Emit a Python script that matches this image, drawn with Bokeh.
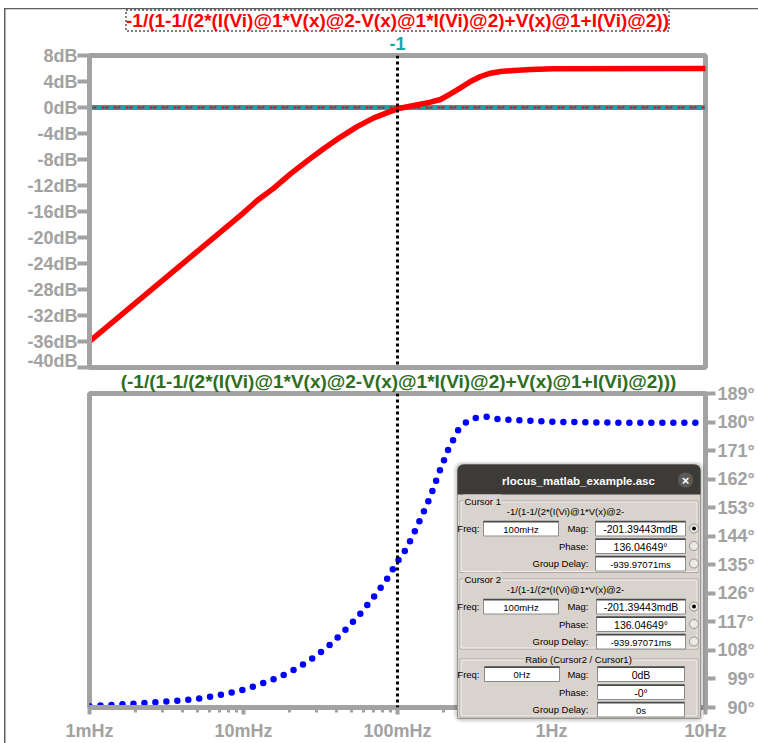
from bokeh.plotting import figure
from bokeh.layouts import column
from bokeh.models import Span, Label, BoxAnnotation, FixedTicker, Range1d
from bokeh.embed import file_html
from bokeh.resources import INLINE

# ---------------- data ----------------
# magnitude of the loop expression (dB) vs frequency (Hz)
mag_freq = [0.001, 0.00316, 0.01, 0.01227, 0.01574, 0.02018, 0.02594, 0.03327,
            0.04266, 0.0547, 0.07015, 0.0902, 0.1, 0.1276, 0.1637, 0.1901, 0.2208,
            0.2564, 0.2979, 0.3459, 0.4018, 0.4667, 0.5702, 0.7311, 1.035, 10.0]
mag_db = [-36.0, -26.1, -16.2, -14.3, -12.4, -10.2, -8.2, -6.3,
          -4.55, -2.95, -1.6, -0.6, -0.2014, 0.31, 0.82, 1.23, 2.1,
          3.03, 4.0, 4.77, 5.28, 5.54, 5.69, 5.85, 5.95, 6.0]

# phase (degrees) vs frequency (Hz)
phase_freq = [0.001, 0.00164, 0.0026, 0.00412, 0.00569, 0.00787, 0.01, 0.0126,
              0.0171, 0.0222, 0.0295, 0.0378, 0.0473, 0.0586, 0.0716, 0.0857,
              0.1, 0.1127, 0.1239, 0.1416, 0.1629, 0.1866, 0.2133, 0.2489,
              0.2805, 0.3206, 0.3767, 0.4436, 0.52, 0.7063, 1.0, 2.5, 10.0]
phase_deg = [90.4, 91.0, 91.6, 92.3, 93.1, 94.4, 95.6, 97.2,
             99.6, 102.3, 106.2, 110.4, 115.1, 120.1, 125.4, 130.6,
             136.05, 139.7, 143.5, 149.6, 156.3, 164.2, 171.3, 177.6,
             180.0, 181.3, 181.7, 181.0, 180.7, 180.4, 180.1, 179.8, 179.8]

unity_db = 0.0
cursor_freq = 0.1

db_ticks = list(range(-40, 9, 4))
db_labels = [f"{v}dB" for v in db_ticks]
deg_ticks = list(range(90, 190, 9))
deg_labels = [f"{v}\u00b0".rjust(4, "\u2007") for v in deg_ticks]
decade_ticks = [0.001, 0.01, 0.1, 1, 10]
decade_labels = ["1mHz", "10mHz", "100mHz", "1Hz", "10Hz"]
minor_ticks = [k * d for d in [0.001, 0.01, 0.1, 1] for k in range(2, 10)]

expr = "-1/(1-1/(2*(I(Vi)@1*V(x)@2-V(x)@1*I(Vi)@2)+V(x)@1+I(Vi)@2))"
expr_short = "-1/(1-1/(2*(I(Vi)@1*V(x)@2-"
dialog_title = "rlocus_matlab_example.asc"
cursor1 = {"freq": "100mHz", "mag": "-201.39443mdB", "phase": "136.04649\u00b0", "gd": "-939.97071ms"}
cursor2 = {"freq": "100mHz", "mag": "-201.39443mdB", "phase": "136.04649\u00b0", "gd": "-939.97071ms"}
ratio = {"freq": "0Hz", "mag": "0dB", "phase": "-0\u00b0", "gd": "0s"}

# ---------------- styling ----------------
W = 758
H = 743
TOP_H = 370
BOT_H = H - TOP_H
GRAY = "#a2a2a2"
FONT = "Liberation Sans"
RED = "#ff0000"
TEAL = "#12a8a8"
GREEN = "#2f6d1f"
BODY = "#d8d4cd"


def style_axis(ax, tick_out):
    ax.axis_line_color = GRAY
    ax.axis_line_width = 5
    ax.major_tick_line_color = GRAY
    ax.major_tick_line_width = 4
    ax.major_tick_out = tick_out
    ax.major_tick_in = 0
    ax.major_label_text_font = FONT
    ax.major_label_text_font_style = "bold"
    ax.major_label_text_font_size = "18px"
    ax.major_label_text_color = GRAY


# ---------------- magnitude pane ----------------
top = figure(width=W, height=TOP_H, x_axis_type="log", x_range=Range1d(0.001, 10),
             y_range=Range1d(-40, 8), x_axis_location=None,
             output_backend="svg", toolbar_location=None,
             min_border_left=89, min_border_right=53, min_border_top=55, min_border_bottom=3)
top.grid.visible = False
top.outline_line_color = GRAY
top.outline_line_width = 5
top.border_fill_color = "white"

ya = top.yaxis[0]
ya.ticker = FixedTicker(ticks=db_ticks)
ya.major_label_overrides = dict(zip(db_ticks, db_labels))
style_axis(ya, 12)
ya.minor_tick_line_color = None
ya.major_label_standoff = 0

top.add_layout(Span(location=unity_db, dimension="width", line_color=TEAL,
                    line_width=5, level="underlay"))
top.add_layout(Span(location=unity_db, dimension="width", line_color=RED,
                    line_width=2, line_dash="3 1 3 5", level="underlay"))
top.line(mag_freq, mag_db, line_color=RED, line_width=5.5, line_join="round", line_cap="round")
top.add_layout(Span(location=cursor_freq, dimension="height", line_color="black",
                    line_width=3, line_dash="3 3"))

# ---------------- phase pane ----------------
bot = figure(width=W, height=BOT_H, x_axis_type="log", x_range=top.x_range,
             y_range=Range1d(90, 189), y_axis_location="right",
             output_backend="svg", toolbar_location=None,
             min_border_left=89, min_border_right=53, min_border_top=23, min_border_bottom=35)
bot.grid.visible = False
bot.outline_line_color = GRAY
bot.outline_line_width = 5
bot.border_fill_color = "white"

ra = bot.yaxis[0]
ra.ticker = FixedTicker(ticks=deg_ticks)
ra.major_label_overrides = dict(zip(deg_ticks, deg_labels))
style_axis(ra, 10)
ra.minor_tick_line_color = None
ra.major_label_standoff = 2

xa = bot.xaxis[0]
xa.ticker = FixedTicker(ticks=decade_ticks, minor_ticks=minor_ticks)
xa.major_label_overrides = dict(zip(decade_ticks, decade_labels))
style_axis(xa, 7)
xa.minor_tick_line_color = GRAY
xa.minor_tick_line_width = 3
xa.minor_tick_out = 5
xa.minor_tick_in = 0
xa.major_label_standoff = 6

bot.line(phase_freq, phase_deg, line_color="#0000ff", line_width=6.5,
         line_dash="0 11", line_cap="round", line_join="round")
bot.add_layout(Span(location=cursor_freq, dimension="height", line_color="black",
                    line_width=3, line_dash="3 3"))

# ---------------- transparent overlay in page pixels (titles, window, cursor dialog) ----------------
ov = figure(width=W, height=H, x_range=Range1d(0, W), y_range=Range1d(H, 0),
            x_axis_location=None, y_axis_location=None,
            output_backend="svg", toolbar_location=None, min_border=0,
            margin=(-H, 0, 0, 0))
ov.frame_align = False
ov.grid.visible = False
ov.outline_line_color = None
ov.background_fill_color = None
ov.border_fill_color = None


def box(x0, y0, x1, y1, fill=None, line=None, lw=1, alpha=1.0, radius=0, dash="solid"):
    ov.add_layout(BoxAnnotation(left=x0, right=x1, top=y0, bottom=y1,
                                fill_color=fill, fill_alpha=alpha if fill else 0,
                                line_color=line, line_width=lw, line_alpha=1,
                                line_dash=dash, border_radius=radius))


def text(x, y, s, size="9.5px", align="left", color="black", style="normal", bg=None, **kw):
    ov.add_layout(Label(x=x, y=y, text=s, text_align=align, text_baseline="middle",
                        text_color=color, text_font=FONT, text_font_style=style,
                        text_font_size=size, background_fill_color=bg, padding=1, **kw))


# window edges
box(3.5, 7.5, 5, H, fill="#5e5e5e")
box(3.5, 7.5, W, 8.8, fill="#5e5e5e")

# pane titles
ov.add_layout(Label(x=397, y=20, text=expr, text_align="center", text_baseline="middle",
                    text_color=RED, text_font=FONT, text_font_style="bold", text_font_size="19px",
                    border_line_color="black", border_line_dash="2 2", border_line_width=1,
                    padding=0))
text(397, 43, "-1", size="18px", align="center", color=TEAL, style="bold")
text(398, 381, "(" + expr + ")", size="19px", align="center", color=GREEN, style="bold")

# cursor readout dialog
box(453, 461, 704, 722, fill="black", alpha=0.08, radius=8)
box(455, 462.5, 702, 720, fill="black", alpha=0.10, radius=7)
box(457, 464, 700, 718, fill=BODY, line="#9c988f", radius=(6, 6, 0, 0))
box(457, 464, 700, 494, fill="#3c3b37", radius=(6, 6, 0, 0))
text(578, 480, dialog_title, size="11.5px", align="center", color="white", style="bold")
box(677.5, 472, 692.5, 487, fill="#5b5a56", radius=7)
text(685, 479.5, "\u00d7", size="13px", align="center", color="white", style="bold")


def group(y0, y1, title, tx, talign):
    box(459.5, y0, 697.5, y1, line="#aaa69e")
    box(460.5, y0 + 1, 696.5, y1 - 1, line="#f2f0ec")
    text(tx, y0, title, align=talign, bg=BODY)


def field(x0, x1, yc, s, size="9.5px"):
    box(x0, yc - 7.5, x1, yc + 7.5, fill="white", line="#8c8c8c")
    box(x0, yc - 7.5, x1, yc - 6, fill="#4a4a4a")
    text((x0 + x1) / 2, yc + 0.5, s, size=size, align="center")


def radio(yc, selected):
    box(689, yc - 4.5, 698, yc + 4.5, fill="#ebe9e5", line="#9a968e", radius=5)
    if selected:
        box(691.5, yc - 2, 695.5, yc + 2, fill="black", radius=2)


def readout(vals, rows, fx0, fx1, vx0, vx1, radios):
    r1, r2, r3 = rows
    text(480, r1, "Freq:", align="right")
    field(fx0, fx1, r1, vals["freq"])
    text(589, r1, "Mag:", align="right")
    field(vx0, vx1, r1, vals["mag"], size="10.5px")
    text(589, r2, "Phase:", align="right")
    field(vx0, vx1, r2, vals["phase"], size="10.5px")
    text(589, r3, "Group Delay:", align="right")
    field(vx0, vx1, r3, vals["gd"])
    if radios:
        radio(r1, True)
        radio(r2, False)
        radio(r3, False)


group(500.5, 572, "Cursor 1", 463, "left")
text(565, 510.5, expr_short, align="center")
readout(cursor1, (528, 545.5, 563), 483, 558, 595, 685, True)

group(578.5, 648.5, "Cursor 2", 463, "left")
text(565, 588.5, expr_short, align="center")
readout(cursor2, (606, 623.5, 641), 483, 558, 596, 685, True)

group(658.5, 716.5, "Ratio (Cursor2 / Cursor1)", 578, "center")
readout(ratio, (673.5, 691.5, 709), 484, 559, 597, 684, False)

layout = column(top, bot, ov, spacing=0)
open("out.html", "w").write(file_html(layout, INLINE))
